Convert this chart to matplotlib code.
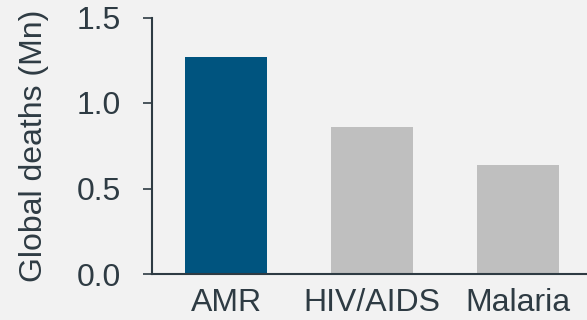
import matplotlib
matplotlib.use("Agg")
import matplotlib.pyplot as plt

categories = ["AMR", "HIV/AIDS", "Malaria"]
deaths_mn = [1.27, 0.86, 0.64]
bar_colors = ["#00547F", "#BFBFBF", "#BFBFBF"]
yticks = [0.0, 0.5, 1.0, 1.5]
ytick_labels = ["0.0", "0.5", "1.0", "1.5"]

plt.rcParams['font.family'] = ['Liberation Sans', 'DejaVu Sans']
txt = "#2E3B43"
bg = "#F2F2F2"

fig = plt.figure(figsize=(5.87, 3.2), dpi=100, facecolor=bg)
ax = fig.add_axes([152/587, 46/320, 1 - 152/587, (274-17.5)/320])
ax.set_facecolor(bg)

x = range(len(categories))
ax.bar(x, deaths_mn, width=0.56, color=bar_colors)

ax.set_xlim(-0.507, 2.473)
ax.set_ylim(0, 1.5)
ax.set_yticks(yticks)
ax.set_yticklabels(ytick_labels)
ax.set_xticks(list(x))
ax.set_xticklabels(categories)

for s in ["top", "right"]:
    ax.spines[s].set_visible(False)
for s in ["left", "bottom"]:
    ax.spines[s].set_color(txt)
    ax.spines[s].set_linewidth(1.5)

ax.tick_params(axis="y", length=6.5, width=1.2, color=txt, labelsize=23, labelcolor=txt, pad=16)
ax.tick_params(axis="x", length=0, labelsize=23, labelcolor=txt, pad=10)
ax.set_ylabel("Global deaths (Mn)", fontsize=23, color=txt, labelpad=20)

fig.savefig("out.png", dpi=100, facecolor=bg)
